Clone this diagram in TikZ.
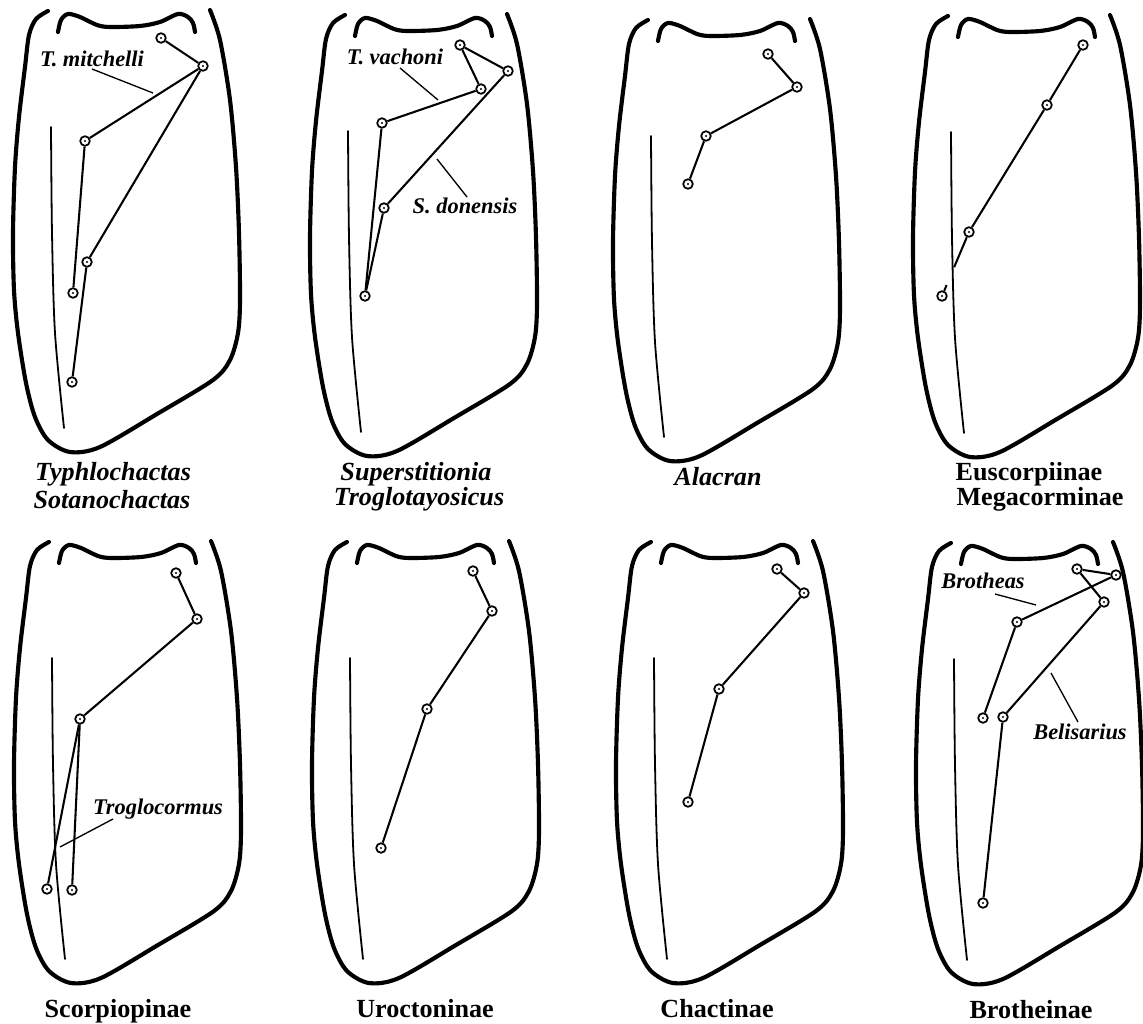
\documentclass[tikz,border=0pt]{standalone}
\usepackage{fontspec}
\setmainfont{Liberation Serif}
\usetikzlibrary{calc}
\begin{document}
\begin{tikzpicture}[x=0.75pt,y=-0.75pt,
  rim/.style={line width=3.1pt, line cap=round},
  keel/.style={line width=1.35pt, line cap=round},
  tb/.style={circle, draw, line width=1.3pt, minimum size=7.2pt, inner sep=0pt,
    path picture={\fill (path picture bounding box.center) circle (0.85pt);}},
  link/.style={line width=1.55pt},
  lead/.style={line width=1pt},
  taxon/.style={font=\fontsize{16.8}{18}\selectfont\bfseries\itshape, inner sep=0pt, anchor=base},
  capI/.style={font=\fontsize{19.6}{21}\selectfont\bfseries\itshape, inner sep=0pt, anchor=base},
  capR/.style={font=\fontsize{19.6}{21}\selectfont\bfseries, inner sep=0pt, anchor=base},
  chela/.pic={
    % outer margin of the manus
    \draw[rim] plot[smooth] coordinates {(48,11) (36,19) (29,35) (25,67) (19,117) (15,167)
      (13,233) (14,290) (18,333) (26,383) (35,417) (48,440) (70,452) (100,447) (157,414)
      (213,380) (230,360) (238,333) (240,300) (239,233) (236,167) (230,100) (220,40) (210,10)};
    % articulation notch at the base of the fixed finger
    \draw[rim] plot[smooth] coordinates {(58,32) (61,20) (68,14) (80,17) (97,25) (110,27)
      (140,26) (160,22) (178,14) (188,17) (193,23) (195,32)};
    % ventral keel
    \draw[keel] plot[smooth] coordinates {(51,127) (52,233) (55,333) (64,428)};
  }]
\useasboundingbox (0,0) rectangle (1143,1024);

% ---------- top row ----------
\pic at (0,0) {chela};
\pic at (297,4) {chela};
\pic at (600,9) {chela};
\pic at (900,5) {chela};

% ---------- bottom row ----------
\pic at (1,531) {chela};
\pic at (299,531) {chela};
\pic at (603,531) {chela};
\pic at (903,532) {chela};

% Typhlochactas / Sotanochactas
\node[tb] (p1a) at (161,38) {};
\node[tb] (p1b) at (203,66) {};
\node[tb] (p1c) at (85,141) {};
\node[tb] (p1d) at (87,262) {};
\node[tb] (p1e) at (73,293) {};
\node[tb] (p1f) at (72,382) {};
\draw[link] (p1a) -- (p1b);
\draw[link] (p1b) -- (p1c);
\draw[link] (p1b) -- (p1d);
\draw[link] (p1c) -- (p1e);
\draw[link] (p1d) -- (p1f);
\node[taxon] (l1) at (92,67) {T. mitchelli};
\coordinate (l1s) at (92,69);
\coordinate (l1e) at (153,93);
\draw[lead] (l1s) -- (l1e);
\node[capI] (c1a) at (113,480) {Typhlochactas};
\node[capI] (c1b) at (112,508) {Sotanochactas};

% Superstitionia / Troglotayosicus
\node[tb] (p2a) at (460,45) {};
\node[tb] (p2b) at (508,71) {};
\node[tb] (p2c) at (481,89) {};
\node[tb] (p2d) at (382,123) {};
\node[tb] (p2e) at (384,208) {};
\node[tb] (p2f) at (365,296) {};
\draw[link] (p2a) -- (p2b);
\draw[link] (p2a) -- (p2c);
\draw[link] (p2c) -- (p2d);
\draw[link] (p2b) -- (p2e);
\draw[link] (p2d) -- (p2f);
\draw[link] (p2e) -- (p2f);
\node[taxon] (l2a) at (395,65) {T. vachoni};
\coordinate (l2as) at (400,68);
\coordinate (l2ae) at (438,100);
\draw[lead] (l2as) -- (l2ae);
\node[taxon] (l2b) at (465,213) {S. donensis};
\coordinate (l2bs) at (437,159);
\coordinate (l2be) at (467,197);
\draw[lead] (l2bs) -- (l2be);
\node[capI] (c2a) at (416,480) {Superstitionia};
\node[capI] (c2b) at (419,505) {Troglotayosicus};

% Alacran
\node[tb] (p3a) at (768,54) {};
\node[tb] (p3b) at (797,87) {};
\node[tb] (p3c) at (706,136) {};
\node[tb] (p3d) at (688,184) {};
\draw[link] (p3a) -- (p3b);
\draw[link] (p3b) -- (p3c);
\draw[link] (p3c) -- (p3d);
\node[capI] (c3) at (718,485) {Alacran};

% Euscorpiinae / Megacorminae
\node[tb] (p4a) at (1083,45) {};
\node[tb] (p4b) at (1047,105) {};
\node[tb] (p4c) at (969,232) {};
\node[tb] (p4d) at (942,296) {};
\draw[link] (p4a) -- (p4b);
\draw[link] (p4b) -- (p4c);
\draw[link] (p4c) -- ($(p4c)!0.55!(p4d)$);
\draw[link] ($(p4c)!0.83!(p4d)$) -- (p4d);
\node[capR] (c4a) at (1029,480) {Euscorpiinae};
\node[capR] (c4b) at (1040,505) {Megacorminae};

% Scorpiopinae
\node[tb] (p5a) at (176,573) {};
\node[tb] (p5b) at (197,619) {};
\node[tb] (p5c) at (80,719) {};
\node[tb] (p5d) at (47,889) {};
\node[tb] (p5e) at (72,890) {};
\draw[link] (p5a) -- (p5b);
\draw[link] (p5b) -- (p5c);
\draw[link] (p5c) -- (p5d);
\draw[link] (p5c) -- (p5e);
\node[taxon] (l5) at (158,814) {Troglocormus};
\coordinate (l5s) at (113,819);
\coordinate (l5e) at (60,847);
\draw[lead] (l5s) -- (l5e);
\node[capR] (c5) at (118,1017) {Scorpiopinae};

% Uroctoninae
\node[tb] (p6a) at (473,571) {};
\node[tb] (p6b) at (492,611) {};
\node[tb] (p6c) at (427,709) {};
\node[tb] (p6d) at (381,848) {};
\draw[link] (p6a) -- (p6b);
\draw[link] (p6b) -- (p6c);
\draw[link] (p6c) -- (p6d);
\node[capR] (c6) at (425,1017) {Uroctoninae};

% Chactinae
\node[tb] (p7a) at (777,569) {};
\node[tb] (p7b) at (804,593) {};
\node[tb] (p7c) at (719,689) {};
\node[tb] (p7d) at (688,802) {};
\draw[link] (p7a) -- (p7b);
\draw[link] (p7b) -- (p7c);
\draw[link] (p7c) -- (p7d);
\node[capR] (c7) at (717,1017) {Chactinae};

% Brotheinae
\node[tb] (p8a) at (1077,569) {};
\node[tb] (p8b) at (1116,575) {};
\node[tb] (p8c) at (1104,602) {};
\node[tb] (p8d) at (1017,622) {};
\node[tb] (p8e) at (983,718) {};
\node[tb] (p8f) at (1003,717) {};
\node[tb] (p8g) at (983,903) {};
\draw[link] (p8a) -- (p8b);
\draw[link] (p8a) -- (p8c);
\draw[link] (p8b) -- (p8d);
\draw[link] (p8d) -- (p8e);
\draw[link] (p8c) -- (p8f);
\draw[link] (p8f) -- (p8g);
\node[taxon] (l8a) at (983,588) {Brotheas};
\coordinate (l8as) at (995,594);
\coordinate (l8ae) at (1036,605);
\draw[lead] (l8as) -- (l8ae);
\node[taxon] (l8b) at (1080,739) {Belisarius};
\coordinate (l8bs) at (1051,673);
\coordinate (l8be) at (1078,722);
\draw[lead] (l8bs) -- (l8be);
\node[capR] (c8) at (1031,1018) {Brotheinae};
\end{tikzpicture}
\end{document}
